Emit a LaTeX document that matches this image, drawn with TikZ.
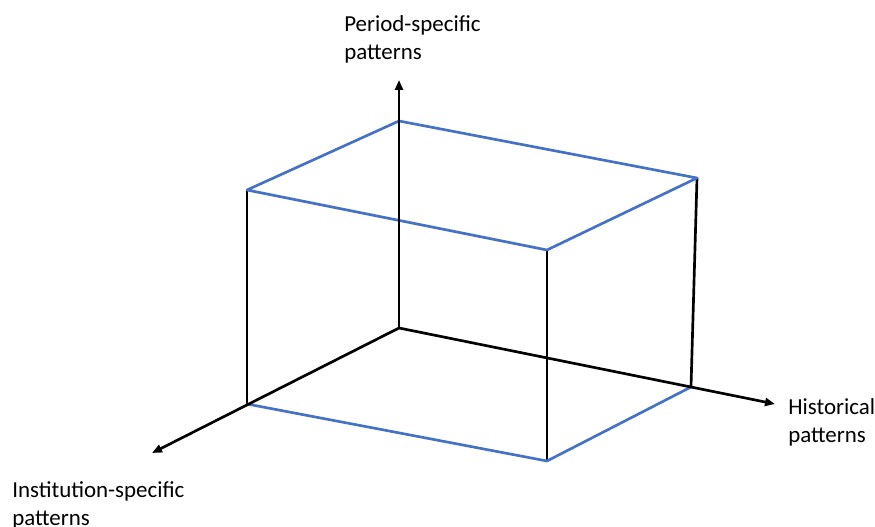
\documentclass[tikz,border=0pt]{standalone}
\usepackage{fontspec}
\setmainfont{Carlito}
\usepackage{tikz}
\usetikzlibrary{arrows.meta}

\begin{document}
\begin{tikzpicture}[x=0.75pt, y=-0.75pt, font=\fontsize{17.2}{21}\selectfont,
    axis/.style={line width=2pt, -{Triangle[length=7.5pt,width=6pt]}},
    edge/.style={line width=2pt},
    face/.style={line width=2pt, color={rgb,255:red,68;green,114;blue,196}},
    lbl/.style={align=left, inner sep=0pt}]
  \useasboundingbox (0,0) rectangle (875,527);
  % axes
  \coordinate (O) at (399,328);
  \coordinate (up) at (399,80); \coordinate (right) at (775,404); \coordinate (left) at (152,453);
  % box corners
  \coordinate (A) at (399,121); \coordinate (B) at (697,178);
  \coordinate (C) at (547,250); \coordinate (D) at (247,190);
  \coordinate (E) at (247,404); \coordinate (F) at (547,461); \coordinate (G) at (691,387);
  \draw[edge] (D) -- (E); \draw[edge] (C) -- (F); \draw[edge] (B) -- (G);
  \draw[face, line join=round] (A) -- (B) -- (C) -- (D) -- cycle;
  \draw[face, line join=round] (E) -- (F) -- (G);
  \draw[axis] (O) -- (up); \draw[axis] (O) -- (right); \draw[axis] (O) -- (left);
  \node[lbl, anchor=north west] (per) at (344,15) {Period-specific\\patterns};
  \node[lbl, anchor=north west] (his) at (788,398) {Historical\\patterns};
  \node[lbl, anchor=north west] (ins) at (12,481) {Institution-specific\\patterns};
\end{tikzpicture}
\end{document}
